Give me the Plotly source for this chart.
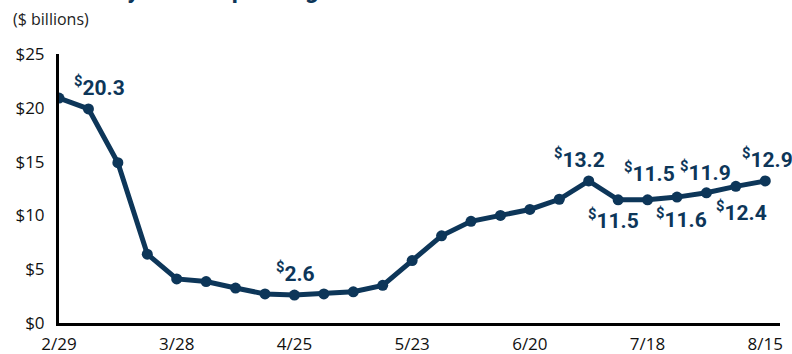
import plotly.graph_objects as go
import pandas as pd

# ---- data ----
dates = pd.date_range("2020-02-29", periods=25, freq="7D")
spending = [20.9, 19.9, 14.9, 6.4, 4.1, 3.85, 3.25, 2.7, 2.6, 2.7, 2.9, 3.5,
            5.8, 8.1, 9.45, 10.0, 10.55, 11.5, 13.2, 11.45, 11.45, 11.7, 12.1, 12.7, 13.2]
tick_dates = ["2020-02-29", "2020-03-28", "2020-04-25", "2020-05-23",
              "2020-06-20", "2020-07-18", "2020-08-15"]
tick_text = ["2/29", "3/28", "4/25", "5/23", "6/20", "7/18", "8/15"]
y_ticks = [0, 5, 10, 15, 20, 25]
y_text = ["$0", "$5", "$10", "$15", "$20", "$25"]

# labels: (point index, value text, xshift, yshift)
label_idx = [1, 8, 18, 19, 20, 21, 22, 23, 24]
label_txt = ["20.3", "2.6", "13.2", "11.5", "11.5", "11.6", "11.9", "12.4", "12.9"]
label_dx = [11, 1, -9, -5, 2, 4, -1, 6, 2]
label_dy = [23, 23, 23, -19, 28, -21, 22, -25, 23]

NAVY = "#0d3659"
FONT = "Open Sans"

fig = go.Figure()
fig.add_trace(go.Scatter(
    x=dates, y=spending, mode="lines+markers",
    line=dict(color=NAVY, width=5),
    marker=dict(color=NAVY, size=11),
    hoverinfo="skip", showlegend=False,
))

for i, t, dx, dy in zip(label_idx, label_txt, label_dx, label_dy):
    fig.add_annotation(
        x=dates[i], y=spending[i], xref="x", yref="y",
        text="<b><sup>$</sup>" + t + "</b>", showarrow=False,
        xshift=dx, yshift=dy, xanchor="center", yanchor="middle",
        font=dict(family="Roboto", size=21, color=NAVY),
    )

fig.add_annotation(
    x=-0.067, y=1.13, xref="paper", yref="paper", xanchor="left", yanchor="middle",
    text="($ billions)", showarrow=False,
    font=dict(family=FONT, size=16, color="#222222"),
)
fig.add_annotation(
    x=-0.07, y=1.179, xref="paper", yref="paper", xanchor="left", yanchor="bottom",
    text="<b>U.S. Weekly Travel Spending</b>", showarrow=False,
    font=dict(family="Roboto", size=24, color=NAVY),
)

fig.update_xaxes(
    range=[pd.Timestamp("2020-02-29"), pd.Timestamp("2020-08-18 12:00")],
    tickvals=pd.to_datetime(tick_dates), ticktext=tick_text,
    showgrid=False, zeroline=False, showline=True, linecolor="black", linewidth=3,
    ticks="", tickfont=dict(family=FONT, size=17, color="#111111"),
    ticklabelstandoff=4, automargin=False,
)
fig.update_yaxes(
    range=[0, 25], tickvals=y_ticks, ticktext=y_text,
    showgrid=False, zeroline=False, showline=True, linecolor="black", linewidth=3,
    ticks="", tickfont=dict(family=FONT, size=17, color="#111111"),
    ticklabelstandoff=8, automargin=False,
)
fig.update_layout(
    width=792, height=354,
    margin=dict(l=59, r=12, t=54, b=31),
    plot_bgcolor="white", paper_bgcolor="white",
)
fig.write_html("out.html")
